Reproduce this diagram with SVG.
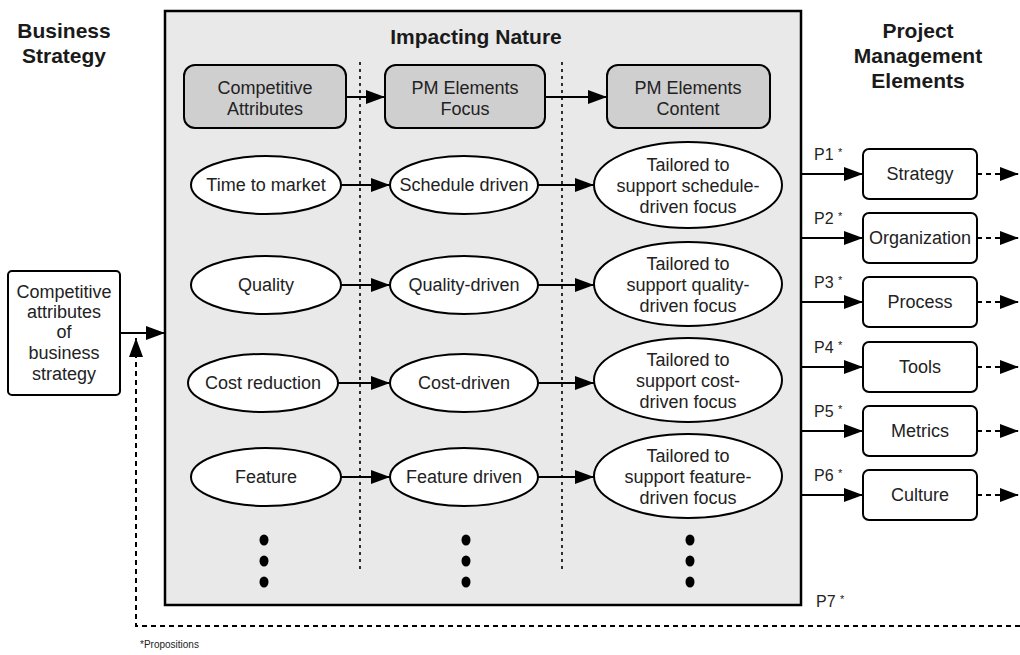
<svg xmlns="http://www.w3.org/2000/svg" width="1020" height="655" viewBox="0 0 1020 655">
<defs>
<marker id="ah" markerUnits="userSpaceOnUse" markerWidth="19" markerHeight="14" refX="19" refY="7" orient="auto"><path d="M0,0 L19,7 L0,14 z" fill="#000"/></marker>
<style>
.hdr{font-family:"Liberation Sans",Arial,sans-serif;font-weight:bold;font-size:21px;fill:#1a1a1a;text-anchor:middle}
.t{font-family:"Liberation Sans",Arial,sans-serif;font-size:18px;fill:#222;text-anchor:middle}
.lbl{font-family:"Liberation Sans",Arial,sans-serif;font-size:16px;fill:#222}
.ell{fill:#fff;stroke:#000;stroke-width:2}
.gbox{fill:#cfcfcf;stroke:#000;stroke-width:2}
.wbox{fill:#fff;stroke:#000;stroke-width:2}
.c{stroke:#000;stroke-width:2;fill:none}
.d{stroke:#000;stroke-width:2;fill:none;stroke-dasharray:5 4}
.sep{stroke:#000;stroke-width:1.6;fill:none;stroke-dasharray:3 4}
</style>
</defs>
<rect width="1020" height="655" fill="#fff"/>

<g id="title-business"><text class="hdr" x="64" y="38">Business</text><text class="hdr" x="64" y="63">Strategy</text></g>
<g id="title-pm"><text class="hdr" x="918" y="38">Project</text><text class="hdr" x="918" y="63">Management</text><text class="hdr" x="918" y="88">Elements</text></g>

<g id="impacting-nature">
<rect x="165" y="11" width="636" height="594" fill="#e9e9e9" stroke="#000" stroke-width="2.5"/>
<text class="hdr" x="476" y="44">Impacting Nature</text>
<line class="sep" x1="360" y1="62" x2="360" y2="572"/>
<line class="sep" x1="562" y1="62" x2="562" y2="572"/>
</g>

<g id="h-competitive"><rect class="gbox" x="184" y="65" width="162" height="63" rx="11"/><text class="t" x="265" y="94">Competitive</text><text class="t" x="265" y="115">Attributes</text></g>
<g id="h-focus"><rect class="gbox" x="385" y="65" width="160" height="63" rx="11"/><text class="t" x="465" y="94">PM Elements</text><text class="t" x="465" y="115">Focus</text></g>
<g id="h-content"><rect class="gbox" x="607" y="65" width="163" height="63" rx="11"/><text class="t" x="688" y="94">PM Elements</text><text class="t" x="688" y="115">Content</text></g>

<g id="r1c1"><ellipse class="ell" cx="266" cy="185" rx="75" ry="29"/><text class="t" x="266" y="191">Time to market</text></g>
<g id="r1c2"><ellipse class="ell" cx="464" cy="185" rx="74" ry="29"/><text class="t" x="464" y="191">Schedule driven</text></g>
<g id="r1c3"><ellipse class="ell" cx="688" cy="185" rx="94" ry="43"/><text class="t" x="688" y="171">Tailored to</text><text class="t" x="688" y="192">support schedule-</text><text class="t" x="688" y="213">driven focus</text></g>

<g id="r2c1"><ellipse class="ell" cx="266" cy="285" rx="75" ry="29"/><text class="t" x="266" y="291">Quality</text></g>
<g id="r2c2"><ellipse class="ell" cx="464" cy="285" rx="74" ry="29"/><text class="t" x="464" y="291">Quality-driven</text></g>
<g id="r2c3"><ellipse class="ell" cx="688" cy="284" rx="94" ry="42"/><text class="t" x="688" y="270">Tailored to</text><text class="t" x="688" y="291">support quality-</text><text class="t" x="688" y="312">driven focus</text></g>

<g id="r3c1"><ellipse class="ell" cx="263" cy="383" rx="75" ry="29"/><text class="t" x="263" y="389">Cost reduction</text></g>
<g id="r3c2"><ellipse class="ell" cx="464" cy="383" rx="74" ry="29"/><text class="t" x="464" y="389">Cost-driven</text></g>
<g id="r3c3"><ellipse class="ell" cx="688" cy="380" rx="94" ry="42"/><text class="t" x="688" y="366">Tailored to</text><text class="t" x="688" y="387">support cost-</text><text class="t" x="688" y="408">driven focus</text></g>

<g id="r4c1"><ellipse class="ell" cx="266" cy="477" rx="75" ry="29"/><text class="t" x="266" y="483">Feature</text></g>
<g id="r4c2"><ellipse class="ell" cx="464" cy="477" rx="74" ry="29"/><text class="t" x="464" y="483">Feature driven</text></g>
<g id="r4c3"><ellipse class="ell" cx="688" cy="476" rx="94" ry="42"/><text class="t" x="688" y="462">Tailored to</text><text class="t" x="688" y="483">support feature-</text><text class="t" x="688" y="504">driven focus</text></g>

<g id="ellipsis-dots" fill="#000">
<ellipse cx="264" cy="540" rx="4.5" ry="5.5"/><ellipse cx="264" cy="561" rx="4.5" ry="5.5"/><ellipse cx="264" cy="582" rx="4.5" ry="5.5"/>
<ellipse cx="466" cy="540" rx="4.5" ry="5.5"/><ellipse cx="466" cy="561" rx="4.5" ry="5.5"/><ellipse cx="466" cy="582" rx="4.5" ry="5.5"/>
<ellipse cx="690" cy="540" rx="4.5" ry="5.5"/><ellipse cx="690" cy="561" rx="4.5" ry="5.5"/><ellipse cx="690" cy="582" rx="4.5" ry="5.5"/>
</g>

<g id="left-box"><rect class="wbox" x="8" y="271" width="112" height="124" rx="4"/>
<text class="t" x="64" y="298">Competitive</text><text class="t" x="64" y="318">attributes</text><text class="t" x="64" y="338">of</text><text class="t" x="64" y="359">business</text><text class="t" x="64" y="380">strategy</text></g>

<g id="pm-strategy"><rect class="wbox" x="863" y="149" width="114" height="50" rx="6"/><text class="t" x="920" y="180">Strategy</text></g>
<g id="pm-organization"><rect class="wbox" x="863" y="213" width="114" height="50" rx="6"/><text class="t" x="920" y="244">Organization</text></g>
<g id="pm-process"><rect class="wbox" x="863" y="277" width="114" height="50" rx="6"/><text class="t" x="920" y="308">Process</text></g>
<g id="pm-tools"><rect class="wbox" x="863" y="342" width="114" height="50" rx="6"/><text class="t" x="920" y="373">Tools</text></g>
<g id="pm-metrics"><rect class="wbox" x="863" y="406" width="114" height="50" rx="6"/><text class="t" x="920" y="437">Metrics</text></g>
<g id="pm-culture"><rect class="wbox" x="863" y="470" width="114" height="50" rx="6"/><text class="t" x="920" y="501">Culture</text></g>

<g id="connectors">
<line class="c" x1="346" y1="97" x2="385" y2="97" marker-end="url(#ah)"/>
<line class="c" x1="545" y1="97" x2="607" y2="97" marker-end="url(#ah)"/>
<line class="c" x1="341" y1="185" x2="390" y2="185" marker-end="url(#ah)"/>
<line class="c" x1="538" y1="185" x2="594" y2="185" marker-end="url(#ah)"/>
<line class="c" x1="341" y1="285" x2="390" y2="285" marker-end="url(#ah)"/>
<line class="c" x1="538" y1="285" x2="594" y2="285" marker-end="url(#ah)"/>
<line class="c" x1="338" y1="383" x2="390" y2="383" marker-end="url(#ah)" stroke="#333" stroke-width="2.6"/>
<line class="c" x1="538" y1="383" x2="594" y2="383" marker-end="url(#ah)" stroke="#333" stroke-width="2.6"/>
<line class="c" x1="341" y1="477" x2="390" y2="477" marker-end="url(#ah)"/>
<line class="c" x1="538" y1="477" x2="594" y2="477" marker-end="url(#ah)"/>
<line class="c" x1="120" y1="333" x2="165" y2="333" marker-end="url(#ah)"/>
<path class="d" d="M1020,626 H136 V338" marker-end="url(#ah)"/>
<line class="c" x1="801" y1="174" x2="863" y2="174" marker-end="url(#ah)"/>
<line class="c" x1="801" y1="238" x2="863" y2="238" marker-end="url(#ah)"/>
<line class="c" x1="801" y1="302" x2="863" y2="302" marker-end="url(#ah)"/>
<line class="c" x1="801" y1="367" x2="863" y2="367" marker-end="url(#ah)"/>
<line class="c" x1="801" y1="431" x2="863" y2="431" marker-end="url(#ah)"/>
<line class="c" x1="801" y1="495" x2="863" y2="495" marker-end="url(#ah)"/>
<line class="d" x1="977" y1="174" x2="1019" y2="174" marker-end="url(#ah)"/>
<line class="d" x1="977" y1="238" x2="1019" y2="238" marker-end="url(#ah)"/>
<line class="d" x1="977" y1="302" x2="1019" y2="302" marker-end="url(#ah)"/>
<line class="d" x1="977" y1="367" x2="1019" y2="367" marker-end="url(#ah)"/>
<line class="d" x1="977" y1="431" x2="1019" y2="431" marker-end="url(#ah)"/>
<line class="d" x1="977" y1="495" x2="1019" y2="495" marker-end="url(#ah)"/>
</g>

<g id="proposition-labels">
<text class="lbl" x="814" y="160">P1 <tspan font-size="11" dy="-4">*</tspan></text>
<text class="lbl" x="814" y="224">P2 <tspan font-size="11" dy="-4">*</tspan></text>
<text class="lbl" x="814" y="288">P3 <tspan font-size="11" dy="-4">*</tspan></text>
<text class="lbl" x="814" y="353">P4 <tspan font-size="11" dy="-4">*</tspan></text>
<text class="lbl" x="814" y="417">P5 <tspan font-size="11" dy="-4">*</tspan></text>
<text class="lbl" x="814" y="481">P6 <tspan font-size="11" dy="-4">*</tspan></text>
<text class="lbl" x="816" y="607">P7 <tspan font-size="11" dy="-4">*</tspan></text>
</g>
<text id="footnote" x="140" y="648" font-family="'Liberation Sans',Arial,sans-serif" font-size="10" fill="#222">*Propositions</text>
</svg>
